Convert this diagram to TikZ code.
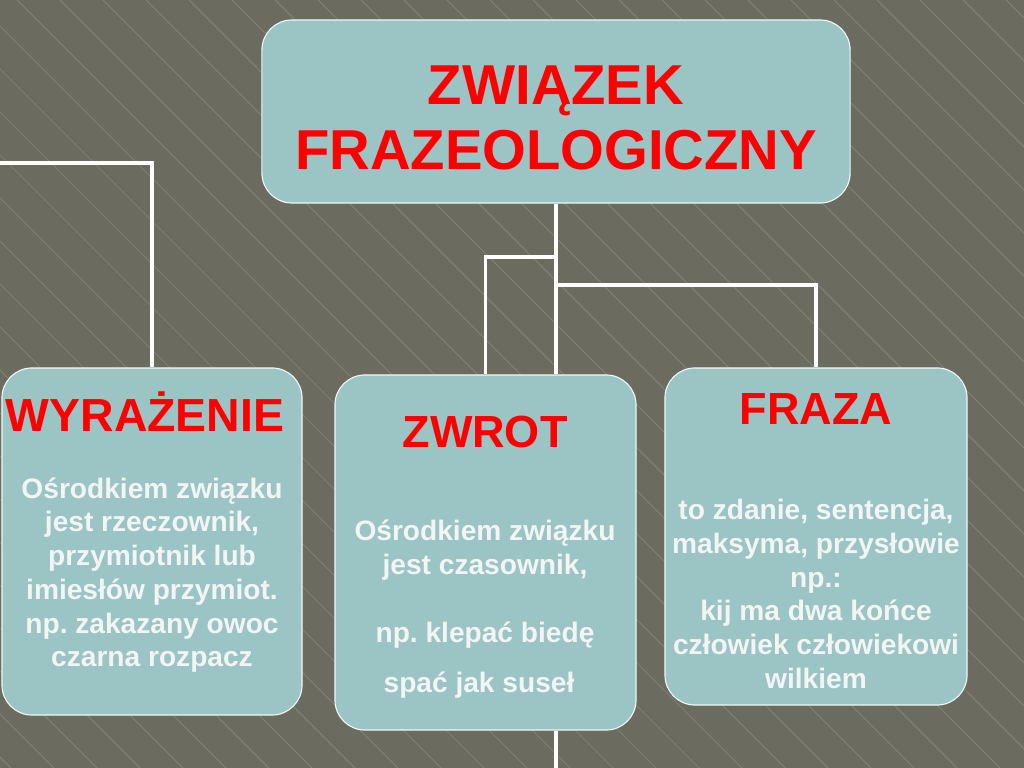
\documentclass[tikz,border=0pt]{standalone}
\usepackage{fontspec}
\setmainfont{Liberation Sans}
\usepackage{tikz}
\usetikzlibrary{positioning}
\frenchspacing

\definecolor{bg}{HTML}{6B6B60}
\definecolor{boxfill}{HTML}{9BC4C4}
\definecolor{stripe}{HTML}{85857B}
\definecolor{bodytext}{HTML}{F2F5F4}

\begin{document}
\begin{tikzpicture}[x=0.025cm,y=-0.025cm,
    box/.style={draw=white!85!boxfill,line width=0.8pt,fill=boxfill,rounded corners=0.75cm},
    title/.style={text=red,font=\bfseries\fontsize{32}{36}\selectfont,align=center},
    body/.style={text=bodytext,font=\bfseries\fontsize{20}{24}\selectfont,align=center},
    link/.style={draw=white,line width=2.2pt}]

     \fill[bg] (0,0) rectangle (1024,768);
     \useasboundingbox (0,0) rectangle (1024,768);
     \begin{scope}
       \clip (0,0) rectangle (1024,768);
       \foreach \i in {-800,-757,...,1100}
         \draw[stripe,line width=0.5pt] (\i,0) -- ++(768,768);
     \end{scope}

     \node[box,minimum width=14.7cm,minimum height=4.575cm] (zf) at (556,111.5) {};
     \node[box,minimum width=7.5cm,minimum height=8.675cm] (wyr) at (152,541.5) {};
     \node[box,minimum width=7.525cm,minimum height=8.875cm] (zw) at (485.5,552.5) {};
     \node[box,minimum width=7.55cm,minimum height=8.425cm] (fr) at (816,536.5) {};

     \node[title,font=\bfseries\fontsize{40}{46}\selectfont] (zft) at (556,118) {ZWIĄZEK\\FRAZEOLOGICZNY};
     \node[title,font=\bfseries\fontsize{33}{36}\selectfont] (wyrt) at (145,412) {WYRAŻENIE};
     \node[title] (zwt) at (485,432) {ZWROT};
     \node[title] (frt) at (816,409) {FRAZA};

     \node[body] (wyrb) at (152,575) {Ośrodkiem związku\\jest rzeczownik,\\przymiotnik lub\\imiesłów przymiot.\\np. zakazany owoc\\czarna rozpacz};
     \node[body] (zwb) at (485,550) {Ośrodkiem związku\\jest czasownik,};
     \node[body] (zwp) at (485,635) {np. klepać biedę};
     \node[body] (zws) at (479,685) {spać jak suseł};
     \node[body] (frb) at (816,594) {to zdanie, sentencja,\\maksyma, przysłowie\\np.:\\kij ma dwa końce\\człowiek człowiekowi\\wilkiem};

     \coordinate (j1) at (556,257);
     \coordinate (j2) at (556,285);
     \coordinate (l0) at (0,163);
     \coordinate (b0) at (556,768);
     \draw[link] (zf.south) -- (zf.south |- zw.north);
     \draw[link] (j1) -| (zw.north);
     \draw[link] (j2) -| (fr.north);
     \draw[link] (l0) -| (wyr.north);
     \draw[link] (zw.south -| b0) -- (b0);
\end{tikzpicture}
\end{document}
